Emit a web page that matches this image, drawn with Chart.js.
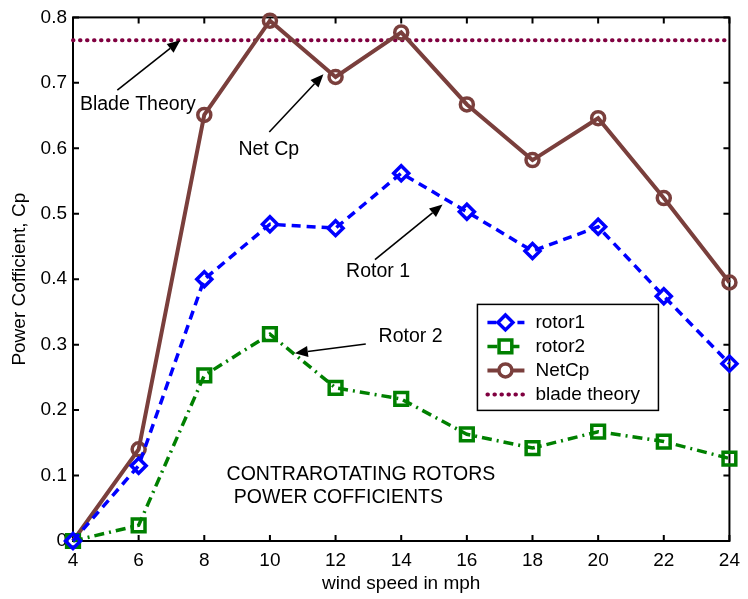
<!DOCTYPE html>
<html>
<head>
<meta charset="utf-8">
<script src="https://cdn.jsdelivr.net/npm/chart.js@4.4.0/dist/chart.umd.min.js"></script>
<style>
  html, body { margin: 0; padding: 0; background: #fff; }
  #wrap { width: 748px; height: 599px; position: relative; }
</style>
</head>
<body>
<div id="wrap"><canvas id="cpChart"></canvas></div>
<script>
var windSpeed = [4, 6, 8, 10, 12, 14, 16, 18, 20, 22, 24];
var rotor1 = [0, 0.115, 0.400, 0.484, 0.478, 0.562, 0.503, 0.443, 0.480, 0.374, 0.271];
var rotor2 = [0, 0.024, 0.253, 0.316, 0.234, 0.217, 0.163, 0.142, 0.167, 0.152, 0.126];
var netCp = [0, 0.140, 0.651, 0.795, 0.709, 0.777, 0.667, 0.582, 0.646, 0.524, 0.395];
var bladeTheory = [0.765, 0.765];
var bladeX = [4, 24];
var xTicks = [4, 6, 8, 10, 12, 14, 16, 18, 20, 22, 24];
var yTicks = [0, 0.1, 0.2, 0.3, 0.4, 0.5, 0.6, 0.7, 0.8];
var yTickLabels = ["0", "0.1", "0.2", "0.3", "0.4", "0.5", "0.6", "0.7", "0.8"];

// text notes with arrows, in data units
var notes = [
  { text: "Blade Theory", x: 4.21, y: 0.666, from: [5.35, 0.689], to: [7.27, 0.765] },
  { text: "Net Cp", x: 9.04, y: 0.598, from: [9.98, 0.625], to: [11.63, 0.713] },
  { text: "Rotor 1", x: 12.32, y: 0.411, from: [13.2, 0.430], to: [15.26, 0.514] },
  { text: "Rotor 2", x: 13.31, y: 0.313, from: [12.92, 0.301], to: [10.76, 0.287] },
  { text: "CONTRAROTATING ROTORS", x: 8.68, y: 0.102 },
  { text: "POWER COFFICIENTS", x: 8.9, y: 0.067 }
];

var FONT = '"Liberation Sans", Arial, sans-serif';

function pairs(xs, ys) {
  return xs.map(function (x, i) { return { x: x, y: ys[i] }; });
}

var datasets = [
  {
    label: "rotor1", data: pairs(windSpeed, rotor1),
    borderColor: "#0000ff", borderWidth: 3.5, borderDash: [9, 6],
    pointStyle: "rectRot", pointRadius: 7.5, pointBorderWidth: 3.5,
    pointBorderColor: "#0000ff", pointBackgroundColor: "rgba(0,0,0,0)", clip: false
  },
  {
    label: "rotor2", data: pairs(windSpeed, rotor2),
    borderColor: "#008000", borderWidth: 3.5, borderDash: [10, 5, 2, 5],
    pointStyle: "rect", pointRadius: 9, pointBorderWidth: 3.5,
    pointBorderColor: "#008000", pointBackgroundColor: "rgba(0,0,0,0)", clip: false
  },
  {
    label: "NetCp", data: pairs(windSpeed, netCp),
    borderColor: "#7a3f3c", borderWidth: 4,
    pointStyle: "circle", pointRadius: 6.5, pointBorderWidth: 3.5,
    pointBorderColor: "#7a3f3c", pointBackgroundColor: "rgba(0,0,0,0)", clip: false
  },
  {
    label: "blade theory", data: pairs(bladeX, bladeTheory),
    borderColor: "#800040", borderWidth: 4, borderDash: [0.5, 6.5], borderCapStyle: "round",
    pointRadius: 0, clip: false
  }
];

var framePlugin = {
  id: "frame",
  beforeDatasetsDraw: function (chart) {
    var ctx = chart.ctx, a = chart.chartArea;
    var sx = chart.scales.x, sy = chart.scales.y;
    ctx.save();
    ctx.strokeStyle = "#000";
    ctx.lineWidth = 2;
    ctx.strokeRect(a.left, a.top, a.right - a.left, a.bottom - a.top);
    ctx.beginPath();
    xTicks.forEach(function (v) {
      var p = sx.getPixelForValue(v);
      ctx.moveTo(p, a.bottom); ctx.lineTo(p, a.bottom - 6);
      ctx.moveTo(p, a.top); ctx.lineTo(p, a.top + 6);
    });
    yTicks.forEach(function (v) {
      var p = sy.getPixelForValue(v);
      ctx.moveTo(a.left, p); ctx.lineTo(a.left + 6, p);
      ctx.moveTo(a.right, p); ctx.lineTo(a.right - 6, p);
    });
    ctx.stroke();
    ctx.restore();
  }
};

function arrow(ctx, x1, y1, x2, y2) {
  var ang = Math.atan2(y2 - y1, x2 - x1), len = 13, hw = 5.5;
  var bx = x2 - len * Math.cos(ang), by = y2 - len * Math.sin(ang);
  ctx.beginPath();
  ctx.moveTo(x1, y1); ctx.lineTo(bx, by);
  ctx.stroke();
  ctx.beginPath();
  ctx.moveTo(x2, y2);
  ctx.lineTo(bx + hw * Math.sin(ang), by - hw * Math.cos(ang));
  ctx.lineTo(bx - hw * Math.sin(ang), by + hw * Math.cos(ang));
  ctx.closePath();
  ctx.fill();
}

var notesPlugin = {
  id: "notes",
  afterDatasetsDraw: function (chart) {
    var ctx = chart.ctx, sx = chart.scales.x, sy = chart.scales.y;
    ctx.save();
    ctx.fillStyle = "#000";
    ctx.strokeStyle = "#000";
    ctx.lineWidth = 1.6;
    ctx.font = "19.5px " + FONT;
    ctx.textAlign = "left";
    ctx.textBaseline = "middle";
    notes.forEach(function (n) {
      ctx.fillText(n.text, sx.getPixelForValue(n.x), sy.getPixelForValue(n.y));
      if (n.from) {
        arrow(ctx, sx.getPixelForValue(n.from[0]), sy.getPixelForValue(n.from[1]),
          sx.getPixelForValue(n.to[0]), sy.getPixelForValue(n.to[1]));
      }
    });

    // legend box
    var a = chart.chartArea;
    var L = a.right - 252, T = a.top + 287, W = 181, H = 106;
    ctx.fillStyle = "#fff";
    ctx.fillRect(L, T, W, H);
    ctx.strokeStyle = "#000";
    ctx.lineWidth = 1.5;
    ctx.strokeRect(L, T, W, H);
    ctx.font = "19px " + FONT;
    datasets.forEach(function (d, i) {
      var y = T + 18 + i * 24;
      ctx.save();
      ctx.strokeStyle = d.borderColor;
      ctx.lineWidth = d.borderWidth;
      ctx.lineCap = d.borderCapStyle || "butt";
      ctx.setLineDash(d.borderDash || []);
      ctx.beginPath();
      ctx.moveTo(L + 10, y); ctx.lineTo(L + 47, y);
      ctx.stroke();
      ctx.setLineDash([]);
      if (d.pointRadius) {
        ctx.fillStyle = "#fff";
        ctx.strokeStyle = d.pointBorderColor;
        ctx.lineWidth = d.pointBorderWidth;
        Chart.helpers.drawPoint(ctx, { pointStyle: d.pointStyle, radius: d.pointRadius, borderWidth: d.pointBorderWidth, rotation: 0 }, L + 28, y);
      }
      ctx.restore();
      ctx.fillStyle = "#000";
      ctx.fillText(d.label, L + 58, y);
    });
    ctx.restore();
  }
};

new Chart(document.getElementById("cpChart"), {
  type: "line",
  data: { datasets: datasets },
  options: {
    animation: false,
    responsive: true,
    maintainAspectRatio: false,
    layout: { padding: { top: 15, right: 9, left: 0, bottom: 0 } },
    plugins: { legend: { display: false }, tooltip: { enabled: false } },
    scales: {
      x: {
        type: "linear", min: 4, max: 24,
        afterBuildTicks: function (s) { s.ticks = xTicks.map(function (v) { return { value: v }; }); },
        afterFit: function (s) { s.height = 58; },
        grid: { display: false, drawTicks: false },
        border: { display: false },
        ticks: { color: "#000", font: { family: FONT, size: 19 }, padding: 8, maxRotation: 0 },
        title: { display: true, text: "wind speed in mph", color: "#000", font: { family: FONT, size: 19 }, padding: { top: 0, bottom: 4 } }
      },
      y: {
        min: 0, max: 0.8,
        afterBuildTicks: function (s) { s.ticks = yTicks.map(function (v) { return { value: v }; }); },
        afterFit: function (s) { s.width = 73; },
        grid: { display: false, drawTicks: false },
        border: { display: false },
        ticks: {
          color: "#000", font: { family: FONT, size: 19 }, padding: 6,
          callback: function (v) { return yTickLabels[yTicks.indexOf(Math.round(v * 10) / 10)]; }
        },
        title: { display: true, text: "Power Cofficient, Cp", color: "#000", font: { family: FONT, size: 19 }, padding: { top: 8, bottom: 0 } }
      }
    }
  },
  plugins: [framePlugin, notesPlugin]
});
</script>
</body>
</html>
